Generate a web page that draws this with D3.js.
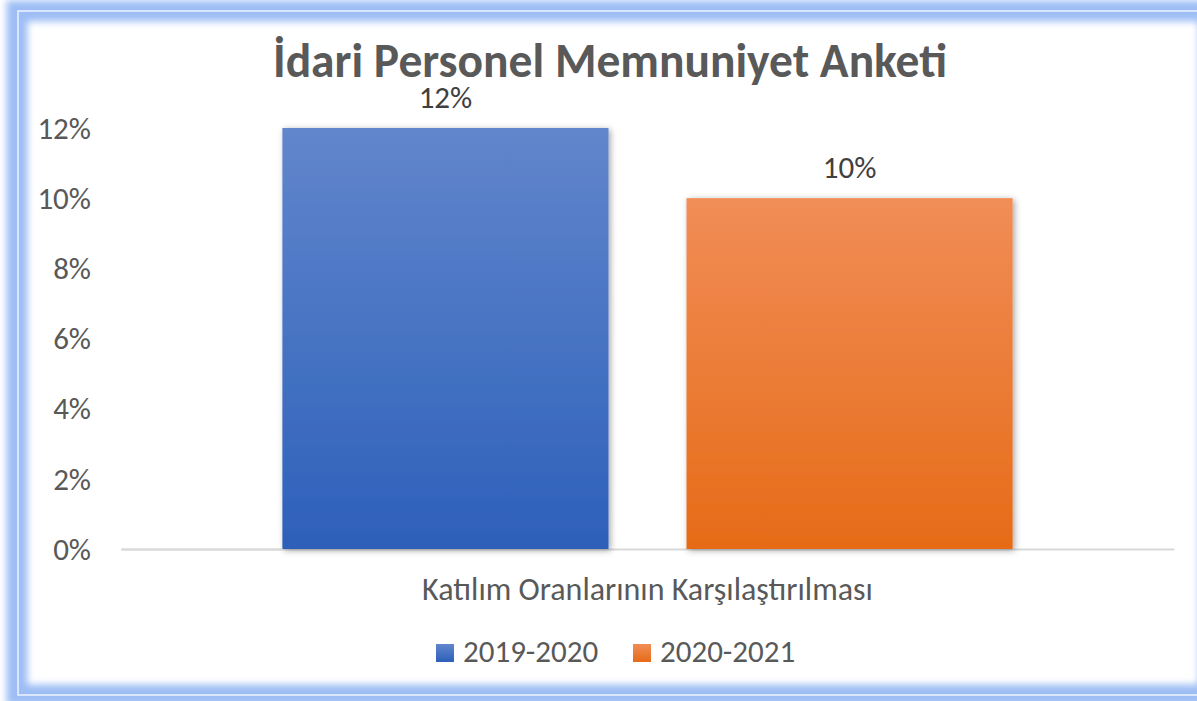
<!DOCTYPE html>
<html>
<head>
<meta charset="utf-8">
<script src="https://cdn.jsdelivr.net/npm/d3@7"></script>
<style>
  html, body { margin: 0; padding: 0; background: #ffffff; }
  svg { display: block; }
  text { font-family: Carlito, Calibri, Lato, "Open Sans", sans-serif; }
</style>
</head>
<body>
<svg id="chart" width="1197" height="701"></svg>
<script>
// ---- data ----
const title = "İdari Personel Memnuniyet Anketi";
const categories = ["Katılım Oranlarının Karşılaştırılması"];
const seriesNames = ["2019-2020", "2020-2021"];
const seriesValues = [[0.12], [0.10]];
const yTicks = [0, 0.02, 0.04, 0.06, 0.08, 0.10, 0.12];
const yTickLabels = ["0%", "2%", "4%", "6%", "8%", "10%", "12%"];

// ---- style ----
const seriesTop = ["#6186cc", "#f18d57"];
const seriesBottom = ["#2d60ba", "#e66b17"];
const textColor = "#595959";
const W = 1197, H = 701;
const plot = { left: 121, right: 1174, top: 128, bottom: 549 };

const svg = d3.select("#chart");
const defs = svg.append("defs");

defs.append("filter").attr("id", "glow")
  .attr("x", "-5%").attr("y", "-5%").attr("width", "110%").attr("height", "110%")
  .append("feGaussianBlur").attr("stdDeviation", 3.5);

const shadow = defs.append("filter").attr("id", "shadow")
  .attr("x", "-10%").attr("y", "-10%").attr("width", "120%").attr("height", "120%");
shadow.append("feDropShadow").attr("dx", 2).attr("dy", 1.5)
  .attr("stdDeviation", 3).attr("flood-color", "#000").attr("flood-opacity", 0.35);

seriesNames.forEach((s, i) => {
  const g = defs.append("linearGradient").attr("id", "grad" + i)
    .attr("x1", 0).attr("y1", 0).attr("x2", 0).attr("y2", 1);
  g.append("stop").attr("offset", "0%").attr("stop-color", seriesTop[i]);
  g.append("stop").attr("offset", "100%").attr("stop-color", seriesBottom[i]);
});

svg.append("rect").attr("width", W).attr("height", H).attr("fill", "#fff");

// frame
svg.append("rect")
  .attr("x", 17).attr("y", 11).attr("width", 1192).attr("height", 684)
  .attr("fill", "none").attr("stroke", "#9dbdf5").attr("stroke-width", 21)
  .attr("filter", "url(#glow)");
svg.append("rect")
  .attr("x", 18).attr("y", 11).attr("width", 1192).attr("height", 684)
  .attr("fill", "none").attr("stroke", "#eef4ff").attr("stroke-width", 1.5);

// scales
const y = d3.scaleLinear().domain([0, 0.12]).range([plot.bottom, plot.top]);
const x0 = d3.scaleBand().domain(categories).range([plot.left, plot.right])
  .paddingInner(0).paddingOuter(0.221);
const x1 = d3.scaleBand().domain(seriesNames).range([0, x0.bandwidth()])
  .paddingInner(0.193).paddingOuter(0);

// y axis labels
const yAxis = d3.axisLeft(y).tickValues(yTicks)
  .tickFormat((d, i) => yTickLabels[i]).tickSize(0).tickPadding(0);
const yg = svg.append("g").attr("transform", `translate(91,0)`).call(yAxis);
yg.select(".domain").remove();
yg.selectAll("text")
  .attr("fill", textColor).attr("font-size", 31).attr("dy", "0.33em")
  .attr("font-family", 'Carlito, Calibri, Lato, "Open Sans", sans-serif');

// x axis line
const xAxis = d3.axisBottom(x0).tickSize(0).tickFormat("");
const xg = svg.append("g").attr("transform", `translate(0,${plot.bottom})`).call(xAxis);
xg.select(".domain").attr("stroke", "#d9d9d9").attr("stroke-width", 2);

// bars
const groups = svg.append("g").selectAll("g").data(categories).join("g")
  .attr("transform", d => `translate(${x0(d)},0)`);

seriesNames.forEach((s, i) => {
  groups.append("rect")
    .attr("x", x1(s))
    .attr("y", (d, ci) => y(seriesValues[i][ci]))
    .attr("width", x1.bandwidth())
    .attr("height", (d, ci) => y(0) - y(seriesValues[i][ci]))
    .attr("fill", `url(#grad${i})`)
    .attr("filter", "url(#shadow)");
  groups.append("text")
    .attr("x", x1(s) + x1.bandwidth() / 2)
    .attr("y", (d, ci) => y(seriesValues[i][ci]) - 20)
    .attr("text-anchor", "middle").attr("font-size", 31).attr("fill", "#404040")
    .text((d, ci) => d3.format(".0%")(seriesValues[i][ci]));
});

// redraw axis line left of bars
svg.append("line").attr("x1", plot.left).attr("x2", x0(categories[0]) + x1(seriesNames[0]))
  .attr("y1", plot.bottom + 0.5).attr("y2", plot.bottom + 0.5)
  .attr("stroke", "#d9d9d9").attr("stroke-width", 2);

// title
svg.append("text").attr("x", 610).attr("y", 77).attr("text-anchor", "middle")
  .attr("font-size", 47.5).attr("font-weight", "bold").attr("fill", textColor)
  .text(title);

// category axis title
svg.append("text")
  .attr("x", x0(categories[0]) + x0.bandwidth() / 2).attr("y", 600)
  .attr("text-anchor", "middle").attr("font-size", 32).attr("fill", textColor)
  .text(categories[0]);

// legend
const legendX = [436, 633];
const lg = svg.append("g").selectAll("g").data(seriesNames).join("g")
  .attr("transform", (d, i) => `translate(${legendX[i]},644)`);
lg.append("rect").attr("width", 18).attr("height", 18)
  .attr("fill", (d, i) => `url(#grad${i})`);
lg.append("text").attr("x", 27).attr("y", 18)
  .attr("font-size", 31).attr("fill", textColor)
  .text(d => d);
</script>
</body>
</html>
